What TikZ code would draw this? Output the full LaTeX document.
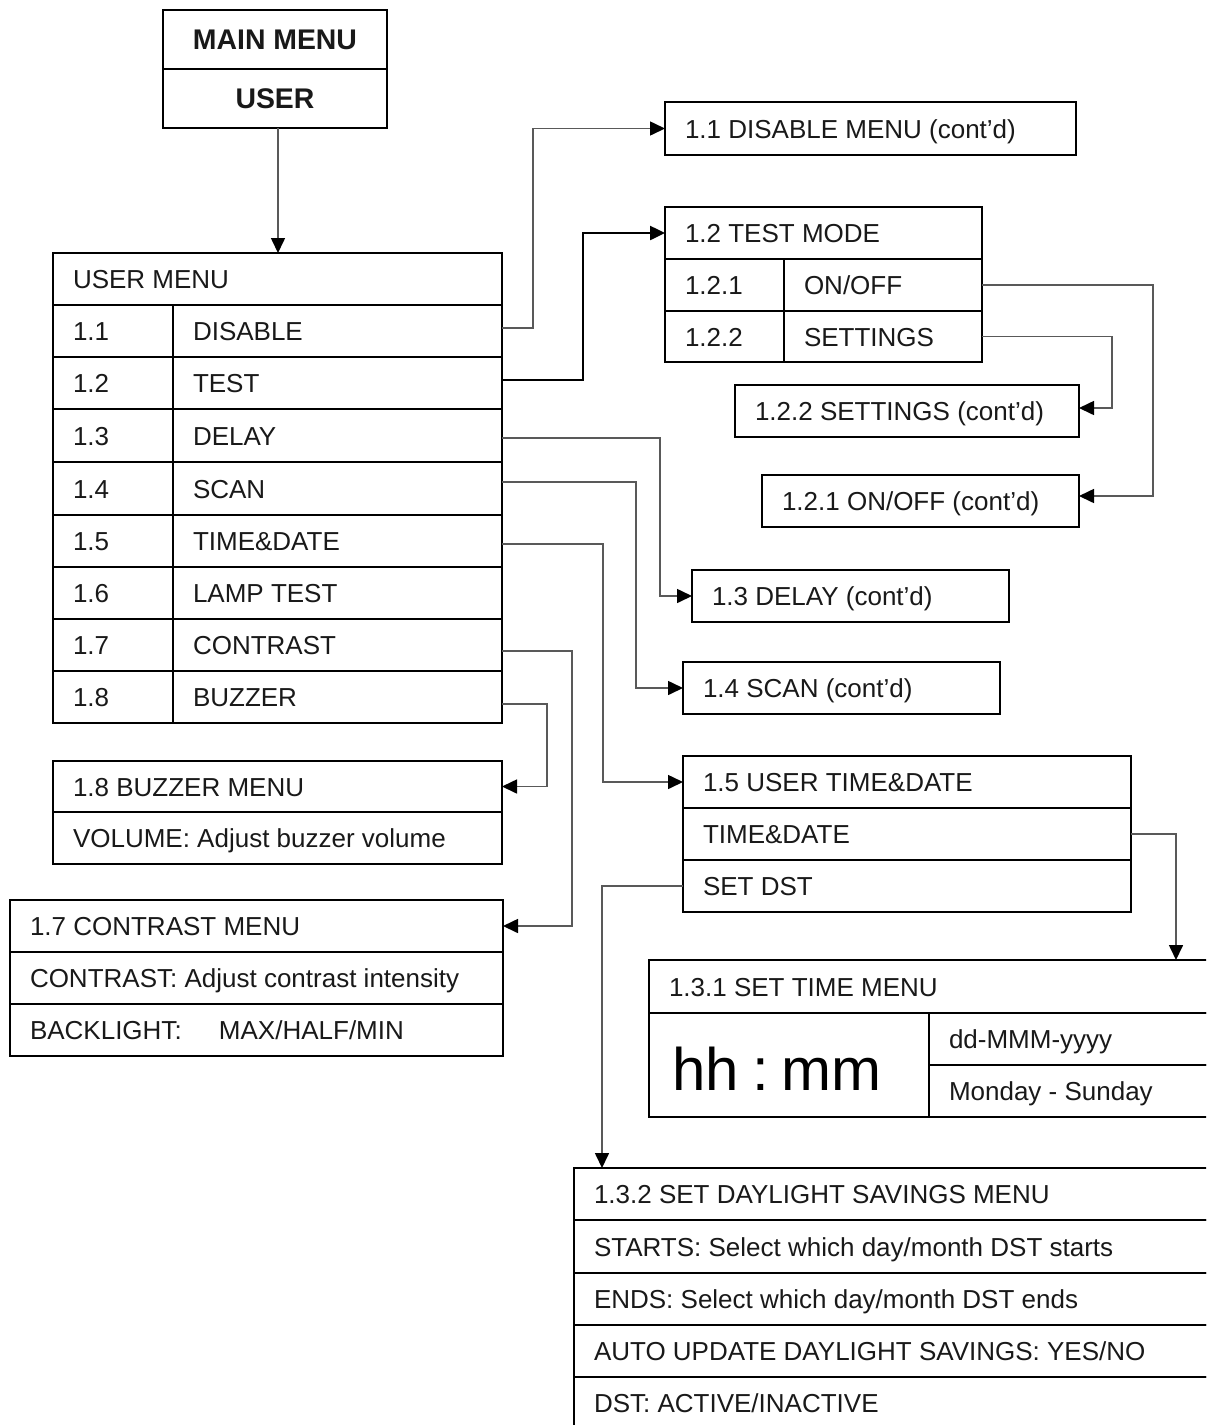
\documentclass[tikz,border=0pt]{standalone}
\usepackage{fontspec}
\setmainfont{Liberation Sans}
\usetikzlibrary{arrows.meta,calc}
\definecolor{conncol}{gray}{0.35}
\tikzset{
  cell/.style={draw=black, line width=1.3pt, rectangle, inner sep=0pt, outer sep=0pt},
  txt/.style={inner sep=0pt, outer sep=0pt, font=\fontsize{13}{15}\selectfont, text=black!90},
  btxt/.style={inner sep=0pt, outer sep=0pt, font=\fontsize{14.2}{16}\selectfont\bfseries, text=black!90},
  bigtxt/.style={inner sep=0pt, outer sep=0pt, font=\fontsize{30}{34}\selectfont, text=black},
  tip/.style={-{Triangle[length=7.5pt,width=7pt,color=black]}},
  conn/.style={draw=conncol, line width=0.8pt, tip},
  connb/.style={draw=black, line width=1.25pt, tip},
}
% name, x, y, w, h  (pixels)
\newcommand\cel[5]{\node[cell, minimum width=#4*0.5pt, minimum height=#5*0.5pt, anchor=north west] (#1) at (#2,#3) {};}
% label in cell
\newcommand\lbl[2]{\node[txt, anchor=base west] (#1t) at ([xshift=10pt,yshift=-4.75pt]#1.west) {#2};}
\begin{document}
\begin{tikzpicture}[x=0.5pt,y=-0.5pt]
\useasboundingbox (0,0) rectangle (1206,1425);
\fill[white] (0,0) rectangle (1206,1425);
\clip (0,0) rectangle (1206,1425);

% main menu
\cel{mm1}{163}{10}{224}{59}
\cel{mm2}{163}{69}{224}{59}
\node[btxt, anchor=base] (mm1t) at ([yshift=-5pt]mm1.center) {MAIN MENU};
\node[btxt, anchor=base] (mm2t) at ([yshift=-5pt]mm2.center) {USER};

% user menu
\cel{um}{53}{253}{449}{52} \lbl{um}{USER MENU}
\cel{n11}{53}{305}{120}{52} \cel{l11}{173}{305}{329}{52} \lbl{n11}{1.1} \lbl{l11}{DISABLE}
\cel{n12}{53}{357}{120}{52} \cel{l12}{173}{357}{329}{52} \lbl{n12}{1.2} \lbl{l12}{TEST}
\cel{n13}{53}{409}{120}{53} \cel{l13}{173}{409}{329}{53} \lbl{n13}{1.3} \lbl{l13}{DELAY}
\cel{n14}{53}{462}{120}{53} \cel{l14}{173}{462}{329}{53} \lbl{n14}{1.4} \lbl{l14}{SCAN}
\cel{n15}{53}{515}{120}{52} \cel{l15}{173}{515}{329}{52} \lbl{n15}{1.5} \lbl{l15}{TIME\&DATE}
\cel{n16}{53}{567}{120}{52} \cel{l16}{173}{567}{329}{52} \lbl{n16}{1.6} \lbl{l16}{LAMP TEST}
\cel{n17}{53}{619}{120}{52} \cel{l17}{173}{619}{329}{52} \lbl{n17}{1.7} \lbl{l17}{CONTRAST}
\cel{n18}{53}{671}{120}{52} \cel{l18}{173}{671}{329}{52} \lbl{n18}{1.8} \lbl{l18}{BUZZER}

% 1.1
\cel{d11}{665}{102}{411}{53} \lbl{d11}{1.1 DISABLE MENU (cont’d)}

% 1.2 test mode
\cel{tm}{665}{207}{317}{52} \lbl{tm}{1.2 TEST MODE}
\cel{tmn1}{665}{259}{119}{52} \cel{tml1}{784}{259}{198}{52} \lbl{tmn1}{1.2.1} \lbl{tml1}{ON/OFF}
\cel{tmn2}{665}{311}{119}{51} \cel{tml2}{784}{311}{198}{51} \lbl{tmn2}{1.2.2} \lbl{tml2}{SETTINGS}

\cel{s122}{735}{385}{344}{52} \lbl{s122}{1.2.2 SETTINGS (cont’d)}
\cel{s121}{762}{475}{317}{52} \lbl{s121}{1.2.1 ON/OFF (cont’d)}
\cel{d13}{692}{570}{317}{52} \lbl{d13}{1.3 DELAY (cont’d)}
\cel{d14}{683}{662}{317}{52} \lbl{d14}{1.4 SCAN (cont’d)}

% 1.5
\cel{ut}{683}{756}{448}{52} \lbl{ut}{1.5 USER TIME\&DATE}
\cel{ut1}{683}{808}{448}{52} \lbl{ut1}{TIME\&DATE}
\cel{ut2}{683}{860}{448}{52} \lbl{ut2}{SET DST}

% 1.8 buzzer
\cel{bz}{53}{761}{449}{51} \lbl{bz}{1.8 BUZZER MENU}
\cel{bz1}{53}{812}{449}{52} \lbl{bz1}{VOLUME: Adjust buzzer volume}

% 1.7 contrast
\cel{ct}{10}{900}{493}{52} \lbl{ct}{1.7 CONTRAST MENU}
\cel{ct1}{10}{952}{493}{52} \lbl{ct1}{CONTRAST: Adjust contrast intensity}
\cel{ct2}{10}{1004}{493}{52} \lbl{ct2}{\makebox[94.5pt][l]{BACKLIGHT:}MAX/HALF/MIN}

% 1.3.1 set time
\cel{st}{649}{960}{620}{53} \lbl{st}{1.3.1 SET TIME MENU}
\cel{sthm}{649}{1013}{280}{104}
\node[bigtxt, anchor=base] (sthmt) at ([xshift=-6pt,yshift=-12.5pt]sthm.center) {hh\hspace{0.22em}:\hspace{0.22em}mm};
\cel{std}{929}{1013}{340}{52} \lbl{std}{dd-MMM-yyyy}
\cel{stw}{929}{1065}{340}{52} \lbl{stw}{Monday - Sunday}

% 1.3.2 daylight savings
\cel{dl}{574}{1168}{700}{52} \lbl{dl}{1.3.2 SET DAYLIGHT SAVINGS MENU}
\cel{dl1}{574}{1220}{700}{53} \lbl{dl1}{STARTS: Select which day/month DST starts}
\cel{dl2}{574}{1273}{700}{52} \lbl{dl2}{ENDS: Select which day/month DST ends}
\cel{dl3}{574}{1325}{700}{52} \lbl{dl3}{AUTO UPDATE DAYLIGHT SAVINGS: YES/NO}
\cel{dl4}{574}{1377}{700}{52} \lbl{dl4}{DST: ACTIVE/INACTIVE}

% connectors
\draw[conn] ([xshift=1.5pt]mm2.south) -- ([xshift=1.5pt]mm2.south |- um.north);
\draw[conn] ([yshift=1.5pt]l11.east) -- ++(31,0) |- (d11.west);
\draw[connb] ([yshift=1.5pt]l12.east) -- ++(81,0) |- (tm.west);
\draw[conn] (tml1.east) -- ++(171,0) |- ([yshift=2.5pt]s121.east);
\draw[conn] (tml2.east) -- ++(130,0) |- ([yshift=1.5pt]s122.east);
\draw[conn] ([yshift=-1.25pt]l13.east) -- ++(158,0) |- (d13.west);
\draw[conn] ([yshift=3.25pt]l14.east) -- ++(134,0) |- (d14.west);
\draw[conn] ([yshift=-1.5pt]l15.east) -- ++(101,0) |- (ut.west);
\draw[conn] ([yshift=-3pt]l17.east) -- ++(70,0) |- (ct.east);
\draw[conn] ([yshift=-3.5pt]l18.east) -- ++(45,0) |- (bz.east);
\draw[conn] (ut1.east) -- ++(45,0) coordinate (tdc) -- (tdc |- st.north);
\draw[conn] (ut2.west) -- ++(-81,0) coordinate (sdc) -- (sdc |- dl.north);
\end{tikzpicture}
\end{document}
